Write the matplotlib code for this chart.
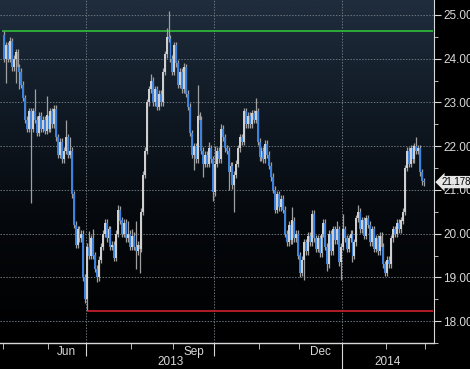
import numpy as np
import matplotlib.pyplot as plt
from matplotlib.colors import LinearSegmentedColormap
from matplotlib.transforms import blended_transform_factory

plt.rcParams["font.family"] = ["Liberation Sans", "DejaVu Sans"]

# daily closes per month (trading days)
may_close = [24.0, 24.3, 24.0, 24.4, 23.8, 24.0, 24.15, 23.8, 23.7, 23.4, 23.1, 22.6,
             22.4, 22.8, 22.4, 22.8, 22.6, 22.3, 22.7, 22.4, 22.6, 22.35, 22.7]
jun_close = [22.4, 22.8, 22.5, 22.85, 22.2, 21.8, 22.1, 21.7, 21.9, 22.2, 21.8, 21.9,
             20.9, 20.2, 19.75, 20.1, 19.9, 20.0, 19.0, 18.5]
jul_close = [19.7, 19.5, 19.9, 19.5, 19.2, 19.0, 19.4, 19.7, 20.0, 20.25, 19.9, 20.1,
             19.7, 19.75, 19.45, 20.0, 20.55, 20.3, 20.0, 20.25, 19.9, 20.0, 19.7]
aug_close = [19.95, 19.7, 19.6, 19.75, 19.65, 20.5, 21.35, 21.9, 23.0, 23.3, 23.5, 23.0,
             23.3, 22.9, 23.2, 23.0, 23.7, 24.1, 24.5, 24.45, 24.0, 23.7]
sep_close = [24.3, 23.9, 23.4, 23.7, 23.3, 23.8, 23.2, 22.9, 22.3, 21.8, 22.0, 21.7,
             22.7, 22.6, 21.9, 21.6, 21.8, 21.6, 21.95, 21.7, 20.95]
oct_close = [21.6, 21.9, 21.7, 22.4, 22.2, 21.95, 21.9, 21.4, 21.55, 21.1, 21.35, 21.6,
             21.95, 22.2, 22.1, 22.8, 22.5, 22.7, 22.5, 22.75, 22.6, 22.8, 22.1]
nov_close = [21.75, 21.9, 21.7, 22.05, 21.8, 21.55, 21.3, 21.0, 20.55, 20.9, 20.6, 20.8,
             20.55, 20.0, 19.8, 20.2, 19.85, 20.3, 19.9, 20.0, 19.5]
dec_close = [19.1, 19.4, 19.8, 19.6, 19.95, 19.8, 20.45, 19.9, 19.65, 19.9, 19.55, 20.0,
             20.25, 19.7, 19.3, 20.0, 19.6, 20.1, 19.85, 20.1, 19.35, 19.7]
jan_close = [20.1, 19.9, 19.65, 19.9, 20.0, 19.5, 19.8, 20.35, 20.5, 20.1, 20.3, 19.95,
             20.35, 20.2, 19.8, 20.1, 19.65, 19.9, 19.6, 19.95, 19.7, 19.3, 19.1]
feb_close = [19.4, 19.3, 19.9, 20.1, 20.0, 20.25, 20.1, 20.3, 20.5, 21.5, 21.9, 21.6,
             21.95, 21.7, 22.0, 21.9, 21.95, 21.4, 21.2, 21.178]

month_names = ["May", "Jun", "Jul", "Aug", "Sep", "Oct", "Nov", "Dec", "Jan", "Feb"]
shown_months = ["Jun", "Sep", "Dec"]
quarter_starts = ["Jul", "Oct", "Jan"]
first_open = 24.55

# long wicks (day index -> extreme)
wick_high = {0: 24.62, 3: 24.5, 6: 24.2, 16: 23.3, 22: 23.15, 26: 22.95, 32: 22.6,
             34: 22.2, 44: 20.05, 46: 20.1, 59: 20.65, 64: 20.3, 66: 20.1, 68: 20.3,
             76: 23.65, 84: 24.7, 85: 25.1, 93: 23.9, 100: 23.4, 106: 22.1, 109: 22.0,
             112: 22.5, 124: 22.85, 130: 23.1, 149: 20.6, 159: 20.5, 172: 20.3,
             175: 20.45, 183: 20.65, 213: 22.2}
wick_low = {1: 23.45, 6: 23.45, 8: 23.3, 14: 20.7, 43: 18.25, 48: 18.9, 68: 19.2,
            70: 19.1, 98: 21.45, 103: 21.3, 108: 20.75, 116: 21.0, 119: 20.5, 138: 21.2,
            153: 19.0, 155: 18.95, 167: 19.15, 174: 18.93, 180: 19.35, 197: 19.05,
            216: 21.1}

green_level = 24.64
red_level = 18.24
y_ticks = [18, 19, 20, 21, 22, 23, 24, 25]
year_labels = ["2013", "2014"]

monthly = [may_close, jun_close, jul_close, aug_close, sep_close,
           oct_close, nov_close, dec_close, jan_close, feb_close]
closes = np.concatenate(monthly)
opens = np.r_[first_open, closes[:-1]]
highs = np.maximum(opens, closes) + 0.08
lows = np.minimum(opens, closes) - 0.08
for i, v in wick_high.items():
    highs[i] = max(highs[i], v)
for i, v in wick_low.items():
    lows[i] = min(lows[i], v)
x = np.arange(len(closes))

starts = np.r_[0, np.cumsum([len(m) for m in monthly])[:-1]]
bounds = starts - 0.5
end_bound = len(closes) - 0.5

fig = plt.figure(figsize=(4.7, 3.69), dpi=100, facecolor="black")
ax = fig.add_axes([0, 26 / 369, 434 / 470, 343 / 369])
ax.set_facecolor("black")
xlim = (-2.05, 222.1)
ylim = (17.57, 25.34)

cmap = LinearSegmentedColormap.from_list(
    "bg", [(0, "#000000"), (0.35, "#05080c"), (0.7, "#111b26"), (1, "#1f2d3d")])
grad = np.linspace(0, 1, 256).reshape(-1, 1)
ax.imshow(grad, extent=[xlim[0], xlim[1], ylim[0], ylim[1]], origin="lower",
          aspect="auto", cmap=cmap, zorder=0)

# grid
for y in y_ticks:
    ax.axhline(y, color="#6b737c", lw=0.7, ls=(0, (1.5, 1.5)), zorder=1)
for name in quarter_starts:
    b = bounds[month_names.index(name)]
    ax.axvline(b, color="#6b737c", lw=0.7, ls=(0, (1.5, 1.5)), zorder=1)

# support / resistance
ax.hlines(green_level, -1.0, 221.6, color="#2fb33a", lw=1.3, zorder=2)
ax.hlines(red_level, 43, 221.6, color="#c0202a", lw=1.3, zorder=2)

# candles
up = closes >= opens
ax.vlines(x, lows, highs, color="#a0a0a0", lw=0.9, zorder=3)
body_lo = np.minimum(opens, closes)
body_h = np.maximum(np.abs(closes - opens), 0.03)
ax.bar(x[up], body_h[up], bottom=body_lo[up], width=1.0, color="#cfcfcf",
       linewidth=0, zorder=4)
ax.bar(x[~up], body_h[~up], bottom=body_lo[~up], width=1.0, color="#3d82dc",
       linewidth=0, zorder=4)

ax.set_xlim(xlim)
ax.set_ylim(ylim)

# axes styling
for s in ["top", "left"]:
    ax.spines[s].set_visible(False)
ax.spines["right"].set_color("#d8d8d8")
ax.spines["bottom"].set_color("#d8d8d8")
ax.spines["bottom"].set_linewidth(1.0)
ax.yaxis.tick_right()
ax.set_yticks(y_ticks)
ax.set_yticklabels([f"{v:.3f}" for v in y_ticks])
ax.set_yticks([v + 0.5 for v in y_ticks[:-1]] + [17.5], minor=True)
ax.tick_params(axis="y", which="major", colors="#d8d8d8", labelsize=8.5,
               length=5, pad=1.5)
ax.tick_params(axis="y", which="minor", colors="#d8d8d8", length=3)

q_idx = [month_names.index(n) for n in quarter_starts]
ax.set_xticks([bounds[i] for i in q_idx if month_names[i] != "Jan"])
ax.set_xticks(list(bounds) + [end_bound], minor=True)
ax.set_xticklabels([])
ax.tick_params(axis="x", which="major", colors="#d8d8d8", length=9)
ax.tick_params(axis="x", which="minor", colors="#d8d8d8", length=4)

trans = blended_transform_factory(ax.transData, ax.transAxes)
for name in shown_months:
    i = month_names.index(name)
    mid = (bounds[i] + bounds[i + 1]) / 2
    ax.text(mid, -0.027, name, transform=trans, ha="center", va="center",
            color="#d8d8d8", fontsize=8.5)

jan_b = bounds[month_names.index("Jan")]
ax.plot([jan_b, jan_b], [0, -0.08], transform=trans, color="#d8d8d8",
        lw=0.8, clip_on=False)
ax.text((xlim[0] + jan_b) / 2, -0.056, year_labels[0], transform=trans,
        ha="center", va="center", color="#d8d8d8", fontsize=8.5)
ax.text((jan_b + xlim[1]) / 2, -0.056, year_labels[1], transform=trans,
        ha="center", va="center", color="#d8d8d8", fontsize=8.5)

# last price tag
last = closes[-1]
ax.annotate(f"{last:.3f}", xy=(1.0, last), xycoords=("axes fraction", "data"),
            xytext=(1.018, last), textcoords=("axes fraction", "data"),
            ha="left", va="center", fontsize=7, color="black",
            bbox=dict(boxstyle="larrow,pad=0.12", fc="#e6e6e6", ec="none"),
            annotation_clip=False, zorder=6)

fig.savefig("out.png", dpi=100, facecolor="black")
